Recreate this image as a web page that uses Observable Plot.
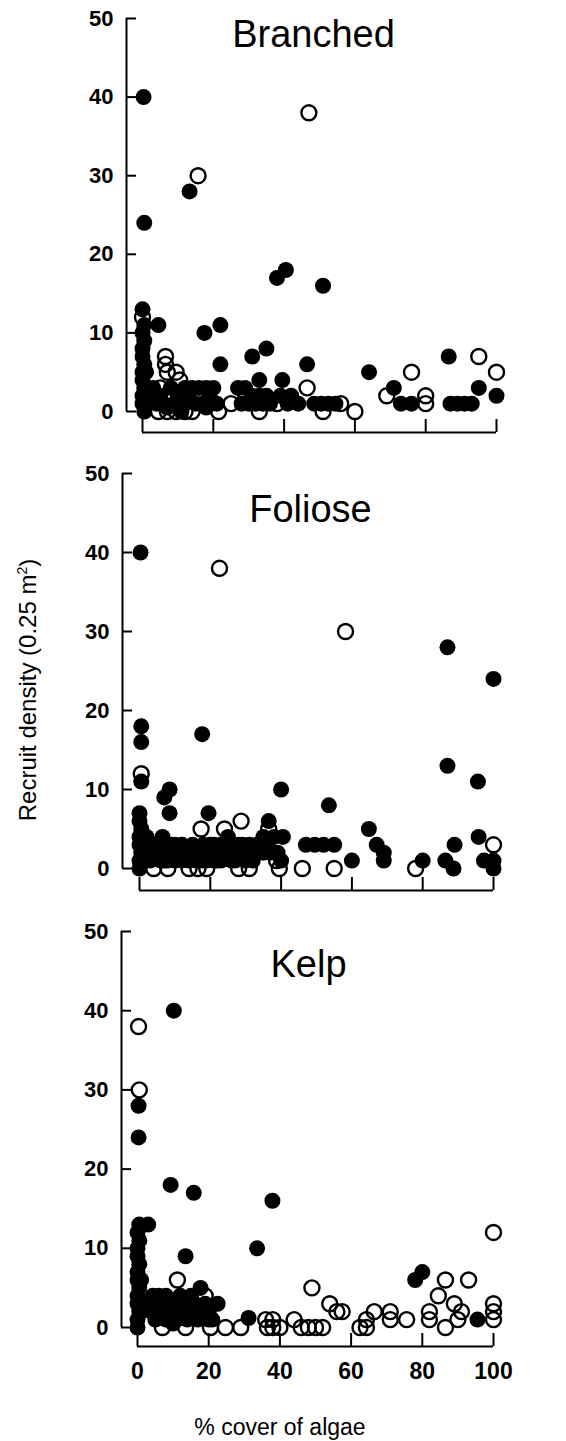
<!DOCTYPE html>
<html>
<head>
<meta charset="utf-8">
<script src="https://cdn.jsdelivr.net/npm/d3@7"></script>
<script src="https://cdn.jsdelivr.net/npm/@observablehq/plot@0.6"></script>
<style>
  body { margin: 0; background: #fff; }
  #chart { position: relative; width: 566px; height: 1441px; background: #fff; overflow: hidden;
           font-family: Arial, "Liberation Sans", Helvetica, sans-serif; color: #000; }
  .panel { position: absolute; left: 0; }
  #ylab { position: absolute; left: 28px; top: 690px; transform: translate(-50%, -50%) rotate(-90deg);
          white-space: nowrap; font-size: 24px; }
  #xlab { position: absolute; left: 160px; width: 240px; top: 1414px; text-align: center; font-size: 23px; }
</style>
</head>
<body>
<div id="chart">
  <div id="ylab">Recruit density (0.25 m<sup style="font-size:14px">2</sup>)</div>
  <div id="xlab">% cover of algae</div>
</div>
<script>
// ---- data ----
const panelTitles = ["Branched", "Foliose", "Kelp"];
const xTicks = [0, 20, 40, 60, 80, 100];
const yTicks = [0, 10, 20, 30, 40, 50];

// Branched: [ % cover, recruit density ]
const branchedFilled = [
  [0.3,40],[0.5,24],[13.3,28],
  [0,13],[0.5,11],[0,10],[0.5,9],[0,8],[0,7],[0.5,6],[0,5],[0,4],[0.5,3],[0,2],[0,1],[0.5,0],[1,2],[1,5],
  [4.5,11],[17.5,10],[22,11],[22,6],[31,7],[35,8],[38,17],[40.5,18],[51,16],[46.5,6],[64,5],[86.5,7],
  [3,3],[5,2],[6,1],[8,3],[9,1],[10,2],[12,3],[12,1],[7,0.5],[11,0],[13,2],[4,1],
  [14,3],[16,3],[18,3],[20,3],[15,1],[17,1],[19,2],[21,1],[18,0.5],
  [27,3],[29,3],[31,2],[33,4],[33,2],[35,2],[28,1],[30,1],[32,1],[34,1],[36,1],
  [39.5,4],[39,2],[41,1],[42,2],[44,1],
  [48.5,1],[50.5,1],[52.5,1],[54.5,1],
  [71,3],[73,1],[76,1],[87,1],[89,1],[91,1],[93,1],[95,3],[100,2]
];
const branchedOpen = [
  [47,38],[15.7,30],[0,12],[6.5,7],[6.5,6],[7,5],[9.5,5],[10.5,4],[5,3],[8,2],[11,2.5],
  [4.5,0],[7,0],[9.5,0],[12,0],[14,0],[21.5,0],[25,1],[29,1.5],[33,0],[38,1],[46.5,3],
  [51,0],[56,1],[60,0],[69,2],[76,5],[80,2],[80,1],[95,7],[100,5]
];

// Foliose
const folioseFilled = [
  [0.3,40],[0.5,18],[0.5,16],[17.7,17],[0.5,11],
  [0,7],[0,6],[0.5,5],[0,4],[0,3],[0.5,2],[0,1],[0,0],[1,3],[1,1],
  [7,9],[8.5,10],[8.5,7],[6.5,4],[40,10],[53.5,8],[87,13],[95.6,11],[87,28],[100,24],[19.5,7],
  [2,2],[3,1],[4,3],[5,2],[6,1],[7,2],[8,1],[9,3],[10,1],[11,2],[12,1],[13,2],[14,1],[15,2],[16,1],
  [17,2],[18,3],[19,1],[20,2],[21,3],[22,1],[23,3],[24,2],[25,4],[26,3],[27,1],[28,3],[29,2],[30,1],
  [31,3],[33,2],[34,3],[35,4],[36.5,6],[38,4],[40.5,4],[39,2],[40,1],
  [2,4],[3,2],[5,3],[7,1],[9,2],[10,3],[12,3],[14,2],[15,3],[16,2],[18,1],[20,3],[21,1],[22,2],
  [23,1],[24,3],[26,1],[27,2],[29,3],[30,2],[32,1],[33,3],[35,2],[36,3],[37,2],
  [47,3],[49.5,3],[52,3],[55,3],[60,1],[64.8,5],[67,3],[69,2],[69,1],[80,1],[86.4,1],[88.7,0],
  [89,3],[95.8,4],[97.3,1],[100,1],[100,0]
];
const folioseOpen = [
  [22.6,38],[58.2,30],[0.5,12],[17.4,5],[24,5],[28.7,6],[10,2],[36.5,5],[38.7,1],
  [4,0],[8,0],[14,0],[16.5,0],[19,0],[28,0],[31,0],[39.5,0],[46,0],[55,0],[78,0],[100,3]
];

// Kelp
const kelpFilled = [
  [10.2,40],[0.3,28],[0.3,24],[9.3,18],[15.8,17],[37.9,16],[33.6,10],[13.5,9],[17.7,5],[0.5,13],[3,13],
  [0,12],[0.5,11],[0,10],[0,9],[0.5,8],[0,7],[0,6],[0.5,5],[0,4],[0,3],[0.5,2],[0,1],[0,0],[1,6],[1,2],
  [3,3],[4.3,4],[6,3],[7,2],[8,4],[9,2],[10,3],[11,1],[12,2],[13,3],[14,1],[15,2],[16,3],[17,1],
  [18,2],[19,3],[20,2],[21,1],[22.5,3],[5,1],[8,1],[10,0.5],[4,2],[6,4],[12,4],[15,4],[20,1],
  [31.2,1.2],[78,6],[80,7],[95.5,1]
];
const kelpOpen = [
  [0.3,38],[0.5,30],[11.2,6],[19,4],
  [7,0],[13.5,0],[20.5,0],[24.7,0],[29,0],
  [36,1],[36.5,0],[38,1],[38,0],[40,0],[44,1],[46,0],[48,0],[50,0],[52,0],[49,5],[54,3],[56,2],[57.5,2],
  [62.5,0],[64.3,1],[64.3,0],[66.5,2],[71,2],[71,1],[75.6,1],[82,2],[82,1],[84.5,4],[86.5,6],[86.5,0],
  [89,3],[91,2],[90,1],[93,6],[100,12],[100,3],[100,2],[100,1]
];

// ---- layout ----
const layouts = [
  {top: 0,   height: 455, marginTop: 18, marginBottom: 44,  marginLeft: 126, marginRight: 66, range: [142, 496], titleDy: 28, axisGap: 21, xLabels: false},
  {top: 455, height: 458, marginTop: 18, marginBottom: 45,  marginLeft: 122, marginRight: 68, range: [139, 493], titleDy: 48, axisGap: 22, xLabels: false},
  {top: 913, height: 528, marginTop: 18, marginBottom: 114, marginLeft: 121, marginRight: 71, range: [137, 493], titleDy: 45, axisGap: 19, xLabels: true}
];
const panelData = [[branchedFilled, branchedOpen], [folioseFilled, folioseOpen], [kelpFilled, kelpOpen]];

const font = 'Arial, "Liberation Sans", Helvetica, sans-serif';
const chart = document.getElementById("chart");

layouts.forEach((cfg, i) => {
  const [filled, open] = panelData[i];
  const fw = 566 - cfg.marginLeft - cfg.marginRight;
  const fh = cfg.height - cfg.marginTop - cfg.marginBottom;
  const marks = [
    // y axis line
    Plot.ruleX([xTicks[0]], {y1: yTicks[0], y2: yTicks[yTicks.length - 1], dx: cfg.marginLeft - cfg.range[0], strokeWidth: 2}),
    // inward y ticks
    Plot.tickY(yTicks, {y: d => d, insetRight: fw - 10, strokeWidth: 2}),
    Plot.axisY(yTicks, {anchor: "left", tickSize: 0, tickPadding: 13, fontSize: 22, fontWeight: "bold", label: null}),
    // detached x axis line with upward ticks
    Plot.ruleY([yTicks[0]], {x1: xTicks[0], x2: xTicks[xTicks.length - 1], dy: cfg.axisGap, strokeWidth: 2}),
    Plot.tickX(xTicks, {x: d => d, insetTop: fh - 13, dy: cfg.axisGap, strokeWidth: 2}),
    Plot.dot(open, {x: d => d[0], y: d => d[1], r: 7.5, fill: "none", stroke: "black", strokeWidth: 2.4}),
    Plot.dot(filled, {x: d => d[0], y: d => d[1], r: 8, fill: "black", stroke: "none"}),
    Plot.text([panelTitles[i]], {text: d => d, frameAnchor: "top", lineAnchor: "bottom", dy: cfg.titleDy, fontSize: 38, fill: "black"})
  ];
  if (cfg.xLabels) {
    marks.push(Plot.axisX(xTicks, {anchor: "bottom", tickSize: 0, tickPadding: 35, fontSize: 23, fontWeight: "bold", label: null}));
  }
  const svg = Plot.plot({
    width: 566,
    height: cfg.height,
    marginTop: cfg.marginTop,
    marginBottom: cfg.marginBottom,
    marginLeft: cfg.marginLeft,
    marginRight: cfg.marginRight,
    style: {fontFamily: font, background: "transparent", color: "black", overflow: "visible"},
    x: {domain: [xTicks[0], xTicks[xTicks.length - 1]], range: cfg.range, axis: null},
    y: {domain: [yTicks[0], yTicks[yTicks.length - 1]], axis: null},
    marks
  });
  svg.classList.add("panel");
  svg.style.top = cfg.top + "px";
  chart.appendChild(svg);
});
</script>
</body>
</html>
